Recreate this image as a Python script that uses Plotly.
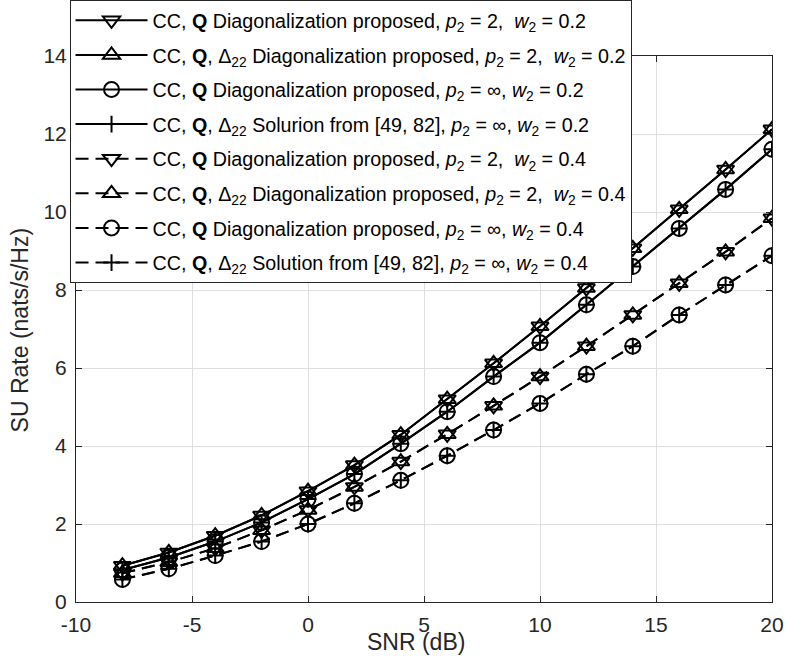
import plotly.graph_objects as go

snr = [-8, -6, -4, -2, 0, 2, 4, 6, 8, 10, 12, 14, 16, 18, 20]

# p2 = 2, w2 = 0.2 (Q diag and Q,Delta diag overlap)
rate_p2_w02 = [0.93, 1.27, 1.70, 2.22, 2.84, 3.51, 4.29, 5.20, 6.12, 7.07, 8.05, 9.07, 10.07, 11.09, 12.12]
# p2 = inf, w2 = 0.2
rate_pinf_w02 = [0.82, 1.14, 1.55, 2.04, 2.64, 3.28, 4.06, 4.88, 5.78, 6.65, 7.62, 8.60, 9.58, 10.58, 11.61]
# p2 = 2, w2 = 0.4
rate_p2_w04 = [0.74, 1.02, 1.38, 1.84, 2.36, 2.95, 3.60, 4.30, 5.03, 5.78, 6.56, 7.36, 8.17, 8.98, 9.84]
# p2 = inf, w2 = 0.4
rate_pinf_w04 = [0.58, 0.85, 1.19, 1.55, 2.00, 2.53, 3.12, 3.75, 4.41, 5.09, 5.84, 6.56, 7.36, 8.13, 8.88]

x_ticks = [-10, -5, 0, 5, 10, 15, 20]
x_tick_labels = ["-10", "-5", "0", "5", "10", "15", "20"]
y_ticks = [0, 2, 4, 6, 8, 10, 12, 14]
y_tick_labels = ["0", "2", "4", "6", "8", "10", "12", "14"]

names = [
    "CC, <b>Q</b> Diagonalization proposed, <i>p</i><sub>2</sub> = 2,  <i>w</i><sub>2</sub> = 0.2",
    "CC, <b>Q</b>, \u0394<sub>22</sub> Diagonalization proposed, <i>p</i><sub>2</sub> = 2,  <i>w</i><sub>2</sub> = 0.2",
    "CC, <b>Q</b> Diagonalization proposed, <i>p</i><sub>2</sub> = \u221e, <i>w</i><sub>2</sub> = 0.2",
    "CC, <b>Q</b>, \u0394<sub>22</sub> Solurion from [49, 82], <i>p</i><sub>2</sub> = \u221e, <i>w</i><sub>2</sub> = 0.2",
    "CC, <b>Q</b> Diagonalization proposed, <i>p</i><sub>2</sub> = 2,  <i>w</i><sub>2</sub> = 0.4",
    "CC, <b>Q</b>, \u0394<sub>22</sub> Diagonalization proposed, <i>p</i><sub>2</sub> = 2,  <i>w</i><sub>2</sub> = 0.4",
    "CC, <b>Q</b> Diagonalization proposed, <i>p</i><sub>2</sub> = \u221e, <i>w</i><sub>2</sub> = 0.4",
    "CC, <b>Q</b>, \u0394<sub>22</sub> Solution from [49, 82], <i>p</i><sub>2</sub> = \u221e, <i>w</i><sub>2</sub> = 0.4",
]
series = [rate_p2_w02, rate_p2_w02, rate_pinf_w02, rate_pinf_w02,
          rate_p2_w04, rate_p2_w04, rate_pinf_w04, rate_pinf_w04]
symbols = ["triangle-down-open", "triangle-up-open", "circle-open", "cross-thin"] * 2
sizes = [15, 15, 15, 12] * 2
dashes = ["solid"] * 4 + ["13px,7px"] * 4

FONT = "Liberation Sans, Arial, sans-serif"

fig = go.Figure()
for i in range(8):
    fig.add_trace(go.Scatter(
        x=snr, y=series[i], name=names[i], mode="lines+markers",
        legendgroup="g%d" % i,
        line=dict(color="black", width=2, dash=dashes[i]),
        marker=dict(symbol=symbols[i], size=sizes[i], color="black",
                    line=dict(color="black", width=2)),
    ))

axis_common = dict(
    showline=True, linecolor="#262626", linewidth=1, mirror="ticks",
    ticks="inside", ticklen=6, tickcolor="#262626", tickwidth=1,
    showgrid=True, gridcolor="#dfdfdf", gridwidth=1, zeroline=False,
    ticklabelstandoff=4,
    tickfont=dict(family=FONT, size=21, color="#262626"),
)

fig.update_layout(
    width=785, height=658,
    margin=dict(l=76, r=13, t=56, b=56, autoexpand=False),
    paper_bgcolor="white", plot_bgcolor="white",
    xaxis=dict(range=[-10, 20], tickvals=x_ticks, ticktext=x_tick_labels, **axis_common),
    yaxis=dict(range=[0, 14], tickvals=y_ticks, ticktext=y_tick_labels, **axis_common),
    legend=dict(
        x=-0.0093, y=1.1026, xanchor="left", yanchor="top",
        bgcolor="white", bordercolor="#262626", borderwidth=1,
        font=dict(family=FONT, size=19.7, color="black"),
        itemwidth=72, traceorder="grouped", tracegroupgap=6, valign="middle",
    ),
    annotations=[
        dict(text="SNR (dB)", x=0.4885, y=-0.074, xref="paper", yref="paper",
             xanchor="center", yanchor="middle", showarrow=False,
             font=dict(family=FONT, size=23, color="#262626")),
        dict(text="SU Rate (nats/s/Hz)", x=-0.08, y=0.498, xref="paper", yref="paper",
             xanchor="center", yanchor="middle", showarrow=False, textangle=-90,
             font=dict(family=FONT, size=23, color="#262626")),
    ],
)

fig.write_html("out.html")
